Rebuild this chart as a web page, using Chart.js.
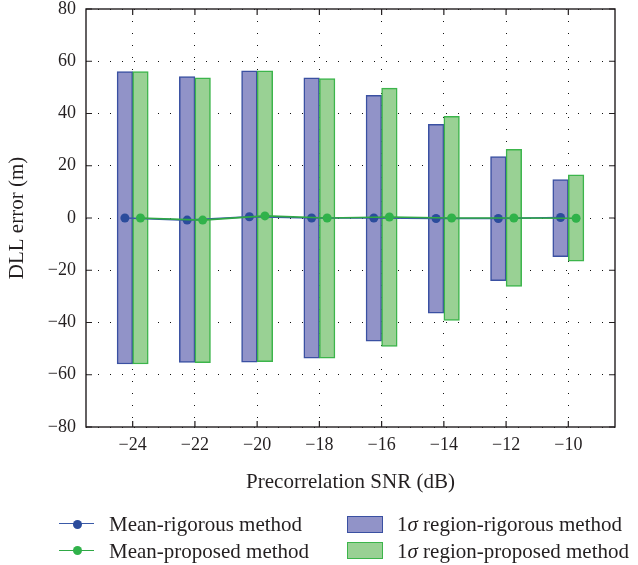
<!DOCTYPE html>
<html>
<head>
<meta charset="utf-8">
<script src="https://cdn.jsdelivr.net/npm/chart.js@4/dist/chart.umd.min.js"></script>
<style>
  html, body { margin: 0; padding: 0; background: #fff; }
  #wrap { position: relative; width: 638px; height: 565px; }
  #c { position: absolute; left: 0; top: 0; }
  #legend { position: absolute; left: 0; top: 0; width: 638px; height: 565px; pointer-events: none;
            font-family: "Liberation Serif", "Times New Roman", serif; font-size: 21px; color: #231f20; }
  .lg-text { position: absolute; white-space: nowrap; line-height: 24px; height: 24px; }
  .lg-line { position: absolute; height: 0; }
  .lg-dot { position: absolute; border-radius: 50%; }
  .lg-box { position: absolute; box-sizing: border-box; }
</style>
</head>
<body>
<div id="wrap">
  <canvas id="c" width="638" height="565"></canvas>
  <div id="legend"></div>
</div>
<script>
// Precorrelation SNR (dB)
const snr = [-24, -22, -20, -18, -16, -14, -12, -10];

// Mean DLL error (m)
const meanRigorous = [0.0, -0.8, 0.5, 0.0, 0.0, -0.2, -0.2, 0.2];
const meanProposed = [0.0, -0.8, 0.8, 0.0, 0.4, 0.0, 0.0, -0.1];

// 1-sigma region bounds (m)
const rigorousUpper = [56.0, 54.1, 56.3, 53.7, 47.0, 35.9, 23.5, 14.7];
const rigorousLower = [-55.9, -55.3, -55.2, -53.7, -47.1, -36.4, -24.0, -14.8];
const proposedUpper = [56.0, 53.7, 56.3, 53.4, 49.7, 38.9, 26.3, 16.5];
const proposedLower = [-55.9, -55.4, -55.0, -53.7, -49.2, -39.2, -26.2, -16.5];

// Axis ticks
const xTicks = snr;
const yTicks = [-80, -60, -40, -20, 0, 20, 40, 60, 80];

// The two methods sit side by side around each SNR value
const SHIFT = 0.25;

const INK = '#231f20';
const FONT = '"Liberation Serif", "Times New Roman", serif';
const BLUE_FILL = '#9193c8', BLUE_EDGE = '#3a50a2', BLUE_DOT = '#2b4c9c', BLUE_LINE = '#3a5aa8';
const GREEN_FILL = '#99d194', GREEN_EDGE = '#3cb54b', GREEN_DOT = '#30b24a', GREEN_LINE = '#2fa845';

const minus = v => String(v).replace('-', '\u2212');

const datasets = [
  {
    type: 'line', label: 'Mean-proposed method', order: 0,
    data: snr.map((s, i) => ({ x: s + SHIFT, y: meanProposed[i] })),
    borderColor: GREEN_LINE, backgroundColor: GREEN_DOT, pointBackgroundColor: GREEN_DOT,
    pointBorderColor: GREEN_DOT, borderWidth: 1.6, pointRadius: 4.5, pointBorderWidth: 0, tension: 0
  },
  {
    type: 'line', label: 'Mean-rigorous method', order: 1,
    data: snr.map((s, i) => ({ x: s - SHIFT, y: meanRigorous[i] })),
    borderColor: BLUE_LINE, backgroundColor: BLUE_DOT, pointBackgroundColor: BLUE_DOT,
    pointBorderColor: BLUE_DOT, borderWidth: 1.6, pointRadius: 4.5, pointBorderWidth: 0, tension: 0
  },
  {
    type: 'bar', label: '1σ region-proposed method', order: 2,
    data: snr.map((s, i) => ({ x: s + SHIFT, y: [proposedLower[i], proposedUpper[i]] })),
    backgroundColor: GREEN_FILL, borderColor: GREEN_EDGE, borderWidth: 1.5, borderSkipped: false,
    grouped: false, barPercentage: 1, categoryPercentage: 1
  },
  {
    type: 'bar', label: '1σ region-rigorous method', order: 3,
    data: snr.map((s, i) => ({ x: s - SHIFT, y: [rigorousLower[i], rigorousUpper[i]] })),
    backgroundColor: BLUE_FILL, borderColor: BLUE_EDGE, borderWidth: 1.5, borderSkipped: false,
    grouped: false, barPercentage: 1, categoryPercentage: 1
  }
];

// Plot frame with inward tick marks on all four sides
const framePlugin = {
  id: 'frame',
  afterDraw(chart) {
    const { ctx, chartArea: a, scales } = chart;
    ctx.save();
    ctx.strokeStyle = INK;
    ctx.lineWidth = 1.4;
    ctx.strokeRect(a.left, a.top, a.right - a.left, a.bottom - a.top);
    ctx.lineWidth = 1.2;
    const len = 6;
    ctx.beginPath();
    xTicks.forEach(v => {
      const x = scales.x.getPixelForValue(v);
      ctx.moveTo(x, a.bottom); ctx.lineTo(x, a.bottom - len);
      ctx.moveTo(x, a.top); ctx.lineTo(x, a.top + len);
    });
    yTicks.forEach(v => {
      const y = scales.y.getPixelForValue(v);
      ctx.moveTo(a.left, y); ctx.lineTo(a.left + len, y);
      ctx.moveTo(a.right, y); ctx.lineTo(a.right - len, y);
    });
    ctx.stroke();
    ctx.restore();
  }
};

new Chart(document.getElementById('c'), {
  type: 'bar',
  data: { datasets },
  options: {
    responsive: false,
    animation: false,
    events: [],
    layout: { padding: { top: 9, right: 23, bottom: 0, left: 0 } },
    plugins: { legend: { display: false }, tooltip: { enabled: false } },
    scales: {
      x: {
        type: 'linear', min: -25.5, max: -8.5, offset: false, z: 1,
        afterBuildTicks: s => { s.ticks = xTicks.map(v => ({ value: v })); },
        afterFit: s => { s.height = 138; s.paddingLeft = 0; s.paddingRight = 0; },
        grid: { display: true, offset: false, drawTicks: false, color: '#111', lineWidth: 1 },
        border: { display: false, dash: [1, 11] },
        ticks: { color: INK, padding: 7, font: { family: FONT, size: 18 }, maxRotation: 0, callback: minus },
        title: { display: true, text: 'Precorrelation SNR (dB)', color: INK,
                 font: { family: FONT, size: 21 }, padding: { top: 0, bottom: 70 } }
      },
      y: {
        type: 'linear', min: -80, max: 80,
        afterBuildTicks: s => { s.ticks = yTicks.map(v => ({ value: v })); },
        afterFit: s => { s.width = 86; s.paddingTop = 0; s.paddingBottom = 0; },
        grid: { display: true, drawTicks: false, color: '#111', lineWidth: 1 },
        border: { display: false, dash: [1, 11] },
        ticks: { color: INK, padding: 10, font: { family: FONT, size: 18 }, callback: minus },
        title: { display: true, text: 'DLL error (m)', color: INK,
                 font: { family: FONT, size: 21 }, padding: { top: 5, bottom: 0 } }
      }
    }
  },
  plugins: [framePlugin]
});

// Legend in two columns below the plot
const legendEl = document.getElementById('legend');
function add(cls, style, html) {
  const d = document.createElement('div');
  d.className = cls;
  Object.assign(d.style, style);
  if (html) d.innerHTML = html;
  legendEl.appendChild(d);
}
function labelHtml(text) {
  return text.replace('σ', '<i>σ</i>');
}
const rows = [524, 550.5];
[datasets[1], datasets[0]].forEach((ds, r) => {
  const cy = rows[r];
  add('lg-line', { left: '59px', width: '35px', top: (cy - 0.8) + 'px', borderTop: '1.6px solid ' + ds.borderColor });
  add('lg-dot', { left: '72.5px', top: (cy - 4.5) + 'px', width: '9px', height: '9px', background: ds.pointBackgroundColor });
  add('lg-text', { left: '109px', top: (cy - 12) + 'px' }, labelHtml(ds.label));
});
[datasets[3], datasets[2]].forEach((ds, r) => {
  const cy = rows[r];
  add('lg-box', { left: '347px', width: '36px', top: (cy - 8.5) + 'px', height: '17px',
                  background: ds.backgroundColor, border: '1.5px solid ' + ds.borderColor });
  add('lg-text', { left: '397px', top: (cy - 12) + 'px' }, labelHtml(ds.label));
});
</script>
</body>
</html>
